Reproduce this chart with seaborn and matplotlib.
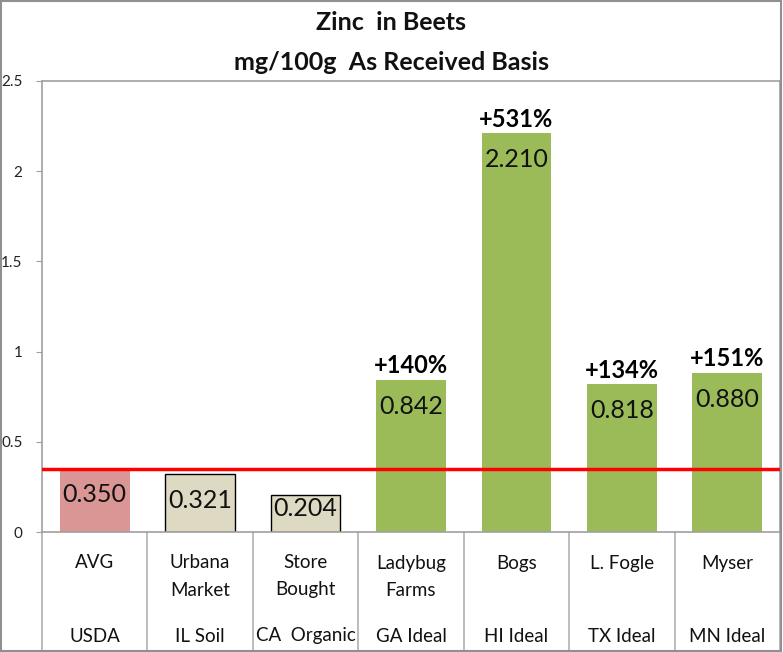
import matplotlib
matplotlib.use("Agg")
import matplotlib.pyplot as plt
import matplotlib.transforms as mtransforms
import seaborn as sns

# data
names = ["AVG", "Urbana\nMarket", "Store\nBought", "Ladybug\nFarms", "Bogs", "L. Fogle", "Myser"]
sources = ["USDA", "IL Soil", "CA  Organic", "GA Ideal", "HI Ideal", "TX Ideal", "MN Ideal"]
zinc = [0.350, 0.321, 0.204, 0.842, 2.210, 0.818, 0.880]
gains = ["", "", "", "+140%", "+531%", "+134%", "+151%"]
usda_avg = 0.35

bar_colors = ["#D99694", "#DDD9C3", "#DDD9C3", "#9BBB59", "#9BBB59", "#9BBB59", "#9BBB59"]

sns.set_style("white")
plt.rcParams["font.family"] = ["Lato", "DejaVu Sans"]

fig = plt.figure(figsize=(7.83, 6.52), dpi=100)
ax = fig.add_axes([42 / 783, 120 / 652, 738 / 783, 451 / 652])

sns.barplot(x=names, y=zinc, hue=names, palette=bar_colors, legend=False,
            width=0.66, saturation=1, ax=ax)
for i, patch in enumerate(ax.patches):
    if bar_colors[i] == "#DDD9C3":
        patch.set_edgecolor("black")
        patch.set_linewidth(1.0)
    else:
        patch.set_linewidth(0)

ax.axhline(usda_avg, color="#FF0000", linewidth=2.5, zorder=5)

ax.set_xlim(-0.5, len(names) - 0.5)
ax.set_ylim(0, 2.5)
ax.set_yticks([0, 0.5, 1, 1.5, 2, 2.5])
ax.set_yticklabels(["0", "0.5", "1", "1.5", "2", "2.5"])
ax.tick_params(axis="y", length=4, color="#A0A0A0", labelsize=11, pad=10, left=True)
for t in ax.get_yticklabels():
    t.set_color("#222222")
ax.set_xticks([])
ax.set_xlabel("")
for s in ax.spines.values():
    s.set_color("#A0A0A0")
    s.set_linewidth(1.2)

# one data unit is 180.4 px
for i, v in enumerate(zinc):
    ax.text(i, max(v - 26 / 180.4, 24 / 180.4), f"{v:.3f}", ha="center", va="center",
            fontsize=18, color="#111111", zorder=6)
    if gains[i]:
        ax.annotate(gains[i], (i, v), xytext=(0, 2), textcoords="offset points",
                    ha="center", va="bottom", fontsize=17, fontweight="bold", color="black")

# category table under the axis
trans = mtransforms.blended_transform_factory(ax.transData, ax.transAxes)
px = 1 / 451
for i in range(len(names)):
    for j, line in enumerate(names[i].split("\n")):
        ax.text(i, -(31 + 27 * j) * px, line, transform=trans, ha="center", va="center",
                fontsize=13.5, color="#111111")
    ax.text(i, -104 * px, sources[i], transform=trans, ha="center", va="center",
            fontsize=13.5, color="#111111")
for k in range(len(names) + 1):
    ax.plot([k - 0.5, k - 0.5], [0, -118 * px], transform=trans, color="#B0B0B0",
            linewidth=1.2, clip_on=False)

fig.text(0.5, 1 - 22 / 652, "Zinc  in Beets", ha="center", va="center",
         fontsize=18, fontweight="bold", color="#111111")
fig.text(0.5, 1 - 62 / 652, "mg/100g  As Received Basis", ha="center", va="center",
         fontsize=18, fontweight="bold", color="#111111")

fig.patches.append(plt.Rectangle((0.001, 0.001), 0.997, 0.997, transform=fig.transFigure,
                                 fill=False, edgecolor="#909090", linewidth=1.5))

fig.savefig("out.png", dpi=100)
